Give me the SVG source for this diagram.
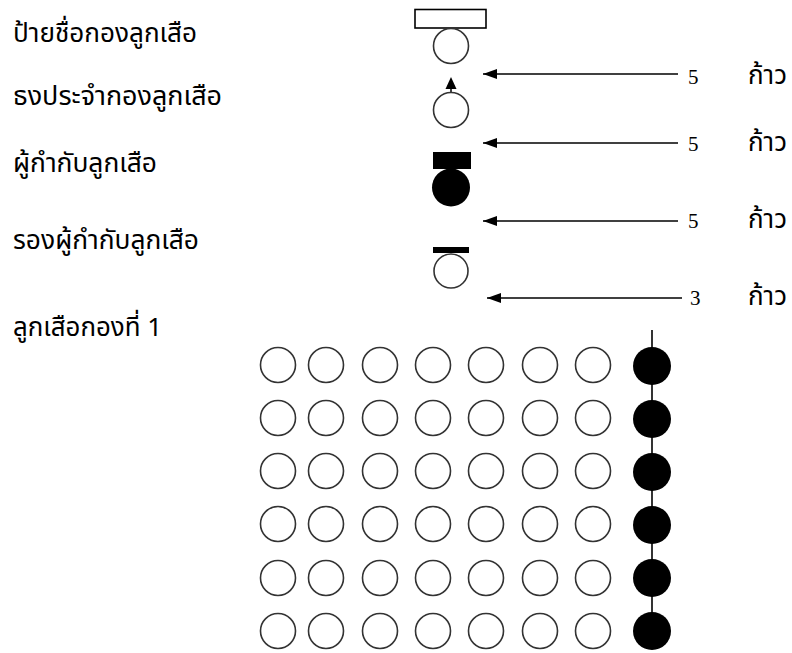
<svg xmlns="http://www.w3.org/2000/svg" width="792" height="653" viewBox="0 0 792 653">
<defs>
<marker id="ah" markerWidth="14" markerHeight="10" refX="14" refY="5" orient="auto" markerUnits="userSpaceOnUse">
<path d="M14,5 L0,0 L0,10 Z" fill="#000"/>
</marker>
</defs>
<style>
.lbl{font-family:"Noto Sans Thai","Tahoma","DejaVu Sans",sans-serif;font-size:26px;fill:#000}
.num{font-family:"Liberation Serif",serif;font-size:21px;fill:#000}
.oc{fill:#fff;stroke:#333;stroke-width:1.6}
.fc{fill:#000;stroke:none}
.arr{stroke:#000;stroke-width:1.6;fill:none}
</style>
<rect width="792" height="653" fill="#fff"/>
<g id="labels">
<text class="lbl" x="13" y="42" textLength="184" lengthAdjust="spacingAndGlyphs">ป้ายชื่อกองลูกเสือ</text>
<text class="lbl" x="13" y="105" textLength="209" lengthAdjust="spacingAndGlyphs">ธงประจำกองลูกเสือ</text>
<text class="lbl" x="13" y="172" textLength="144" lengthAdjust="spacingAndGlyphs">ผู้กำกับลูกเสือ</text>
<text class="lbl" x="13" y="249" textLength="186" lengthAdjust="spacingAndGlyphs">รองผู้กำกับลูกเสือ</text>
<text class="lbl" x="13" y="336" textLength="149" lengthAdjust="spacingAndGlyphs">ลูกเสือกองที่ 1</text>
</g>
<g id="sign">
<rect x="415" y="9.5" width="71" height="18.5" fill="#fff" stroke="#000" stroke-width="1.6"/>
<circle class="oc" cx="451" cy="46" r="17.5"/>
</g>
<g id="flag">
<line x1="451" y1="86" x2="451" y2="93" stroke="#000" stroke-width="1.5"/>
<polygon points="451,77 445.5,89 456.5,89" fill="#000"/>
<circle class="oc" cx="451" cy="110" r="17.5"/>
</g>
<g id="leader">
<rect x="433" y="152" width="38" height="17" fill="#000"/>
<circle class="fc" cx="451" cy="187.5" r="19"/>
</g>
<g id="assistant">
<rect x="433" y="247" width="36" height="6" fill="#000"/>
<circle class="oc" cx="451" cy="271" r="17"/>
</g>
<g id="connectors">
<line class="arr" x1="678" y1="74" x2="483" y2="74" marker-end="url(#ah)"/>
<line class="arr" x1="678" y1="143" x2="483" y2="143" marker-end="url(#ah)"/>
<line class="arr" x1="678" y1="221" x2="483" y2="221" marker-end="url(#ah)"/>
<line class="arr" x1="682" y1="298" x2="487" y2="298" marker-end="url(#ah)"/>
<line x1="652" y1="330" x2="652" y2="631" stroke="#000" stroke-width="1.6"/>
</g>
<g id="steps">
<text class="num" x="688" y="84">5</text>
<text class="lbl" x="748" y="84">ก้าว</text>
<text class="num" x="688" y="151">5</text>
<text class="lbl" x="748" y="151">ก้าว</text>
<text class="num" x="688" y="228">5</text>
<text class="lbl" x="748" y="228">ก้าว</text>
<text class="num" x="690" y="305">3</text>
<text class="lbl" x="748" y="305">ก้าว</text>
</g>
<g id="troop">
<g id="row1">
<circle class="oc" cx="278" cy="365" r="17.5"/><circle class="oc" cx="326" cy="365" r="17.5"/><circle class="oc" cx="380" cy="365" r="17.5"/><circle class="oc" cx="433" cy="365" r="17.5"/><circle class="oc" cx="486" cy="365" r="17.5"/><circle class="oc" cx="540" cy="365" r="17.5"/><circle class="oc" cx="593" cy="365" r="17.5"/><circle class="fc" cx="652" cy="366" r="19"/>
</g>
<g id="row2">
<circle class="oc" cx="278" cy="418" r="17.5"/><circle class="oc" cx="326" cy="418" r="17.5"/><circle class="oc" cx="380" cy="418" r="17.5"/><circle class="oc" cx="433" cy="418" r="17.5"/><circle class="oc" cx="486" cy="418" r="17.5"/><circle class="oc" cx="540" cy="418" r="17.5"/><circle class="oc" cx="593" cy="418" r="17.5"/><circle class="fc" cx="652" cy="419" r="19"/>
</g>
<g id="row3">
<circle class="oc" cx="278" cy="471" r="17.5"/><circle class="oc" cx="326" cy="471" r="17.5"/><circle class="oc" cx="380" cy="471" r="17.5"/><circle class="oc" cx="433" cy="471" r="17.5"/><circle class="oc" cx="486" cy="471" r="17.5"/><circle class="oc" cx="540" cy="471" r="17.5"/><circle class="oc" cx="593" cy="471" r="17.5"/><circle class="fc" cx="652" cy="472" r="19"/>
</g>
<g id="row4">
<circle class="oc" cx="278" cy="524" r="17.5"/><circle class="oc" cx="326" cy="524" r="17.5"/><circle class="oc" cx="380" cy="524" r="17.5"/><circle class="oc" cx="433" cy="524" r="17.5"/><circle class="oc" cx="486" cy="524" r="17.5"/><circle class="oc" cx="540" cy="524" r="17.5"/><circle class="oc" cx="593" cy="524" r="17.5"/><circle class="fc" cx="652" cy="525" r="19"/>
</g>
<g id="row5">
<circle class="oc" cx="278" cy="578" r="17.5"/><circle class="oc" cx="326" cy="578" r="17.5"/><circle class="oc" cx="380" cy="578" r="17.5"/><circle class="oc" cx="433" cy="578" r="17.5"/><circle class="oc" cx="486" cy="578" r="17.5"/><circle class="oc" cx="540" cy="578" r="17.5"/><circle class="oc" cx="593" cy="578" r="17.5"/><circle class="fc" cx="652" cy="578" r="19"/>
</g>
<g id="row6">
<circle class="oc" cx="278" cy="631" r="17.5"/><circle class="oc" cx="326" cy="631" r="17.5"/><circle class="oc" cx="380" cy="631" r="17.5"/><circle class="oc" cx="433" cy="631" r="17.5"/><circle class="oc" cx="486" cy="631" r="17.5"/><circle class="oc" cx="540" cy="631" r="17.5"/><circle class="oc" cx="593" cy="631" r="17.5"/><circle class="fc" cx="652" cy="631" r="19"/>
</g>
</g>
</svg>
